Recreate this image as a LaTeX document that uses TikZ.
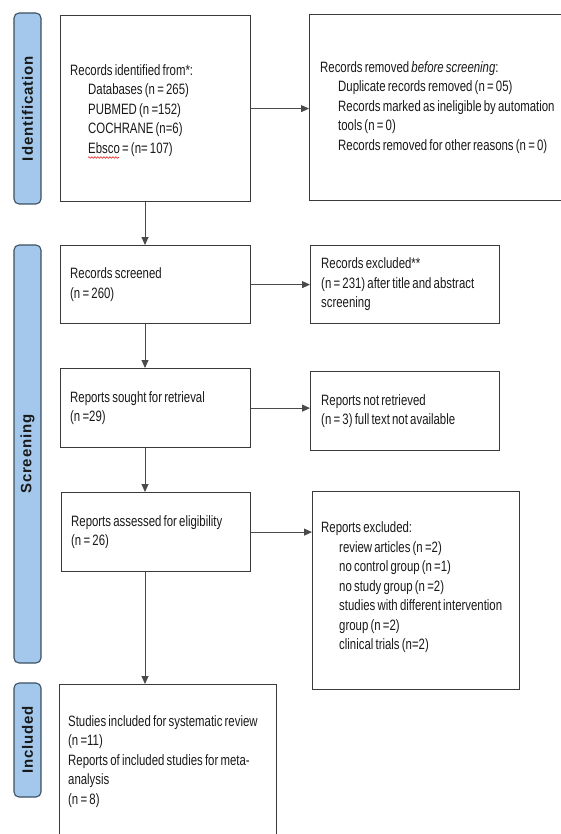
\documentclass[tikz,border=0pt]{standalone}
\usepackage{fontspec}
\setmainfont{Liberation Sans}[FakeStretch=0.76,WordSpace=0.7]
\newfontfamily\sidefont{Liberation Sans}[LetterSpace=6]
\usetikzlibrary{arrows.meta,decorations.pathmorphing}

\definecolor{sidefill}{HTML}{A4C8EC}
\definecolor{sideline}{HTML}{3D4F63}
\definecolor{boxline}{HTML}{3A3A3A}
\definecolor{arrowline}{HTML}{4A4A4A}
\definecolor{spellred}{HTML}{E02020}

\tikzset{
  stagebox/.style={draw=boxline, line width=1.2pt, anchor=north west, inner sep=0pt},
  boxtext/.style={anchor=west, align=left, inner sep=0pt,
    font=\fontsize{15}{19.5}\selectfont, text=black!90},
  sidebar/.style={draw=sideline, fill=sidefill, line width=1.1pt, rounded corners=5pt,
    rotate=90, minimum height=27pt, inner sep=0pt,
    font=\sidefont\bfseries\fontsize{15}{17}\selectfont, text=black!90},
  flow/.style={draw=arrowline, line width=0.9pt, -{Triangle[length=8pt,width=7pt]}}
}

\begin{document}
\begin{tikzpicture}[x=1pt,y=-1pt]
  \useasboundingbox (0,0) rectangle (560,834);
  \coordinate (spine) at (145,0);

  % Stage labels
  \node[sidebar, minimum width=191pt] (ident) at (27.5,108.5) {Identification};
  \node[sidebar, minimum width=418pt] (screen) at (27.5,454) {Screening};
  \node[sidebar, minimum width=114pt] (incl) at (27.5,740) {Included};

  % Main column boxes
  \node[stagebox, minimum width=190pt, minimum height=186pt] (found) at (60,15) {};
  \node[stagebox, minimum width=190pt, minimum height=78pt] (screened) at (60,245) {};
  \node[stagebox, minimum width=190pt, minimum height=79pt] (sought) at (60,368) {};
  \node[stagebox, minimum width=189pt, minimum height=79pt] (assessed) at (61,492) {};
  \node[stagebox, minimum width=217pt, minimum height=154pt] (included) at (59,684) {};

  % Side column boxes
  \node[stagebox, minimum width=262pt, minimum height=186pt] (removed) at (309,14) {};
  \node[stagebox, minimum width=189pt, minimum height=78pt] (excluded) at (310,245) {};
  \node[stagebox, minimum width=189pt, minimum height=79pt] (notretr) at (310,371) {};
  \node[stagebox, minimum width=207pt, minimum height=198pt] (reportsx) at (312,491) {};

  % Box texts
  \node[boxtext] (foundtxt) at ([xshift=10pt,yshift=-2pt]found.west)
    {Records identified from*:\\
     \hspace*{18pt}Databases (n = 265)\\
     \hspace*{18pt}PUBMED (n =152)\\
     \hspace*{18pt}COCHRANE (n=6)\\
     \hspace*{18pt}Ebsco = (n= 107)};
  \node[boxtext] (screenedtxt) at ([xshift=10pt]screened.west) {Records screened\\(n = 260)};
  \node[boxtext] (soughttxt) at ([xshift=10pt]sought.west) {Reports sought for retrieval\\(n =29)};
  \node[boxtext] (assessedtxt) at ([xshift=10pt]assessed.west) {Reports assessed for eligibility\\(n = 26)};
  \node[boxtext] (includedtxt) at ([xshift=9pt]included.west)
    {Studies included for systematic review\\(n =11)\\
     Reports of included studies for meta-\\analysis\\(n = 8)};
  \node[boxtext] (removedtxt) at ([xshift=11pt]removed.west)
    {Records removed \textit{before screening}:\\
     \hspace*{18pt}Duplicate records removed (n = 05)\\
     \hspace*{18pt}Records marked as ineligible by automation\\
     \hspace*{18pt}tools (n = 0)\\
     \hspace*{18pt}Records removed for other reasons (n = 0)};
  \node[boxtext] (excludedtxt) at ([xshift=11pt]excluded.west)
    {Records excluded**\\(n = 231) after title and abstract\\screening};
  \node[boxtext] (notretrtxt) at ([xshift=11pt]notretr.west)
    {Reports not retrieved\\(n = 3) full text not available};
  \node[boxtext] (reportsxtxt) at ([xshift=9pt,yshift=3pt]reportsx.west)
    {Reports excluded:\\
     \hspace*{18pt}review articles (n =2)\\
     \hspace*{18pt}no control group (n =1)\\
     \hspace*{18pt}no study group (n =2)\\
     \hspace*{18pt}studies with different intervention\\
     \hspace*{18pt}group (n =2)\\
     \hspace*{18pt}clinical trials (n=2)};

  % Spell-check mark under Ebsco
  \draw[spellred, line width=0.6pt, decorate, decoration={snake, amplitude=0.8pt, segment length=3pt}]
    (88,157.5) -- (119,157.5);

  % Downward arrows
  \draw[flow] (found.south -| spine) -- (screened.north -| spine);
  \draw[flow] (screened.south -| spine) -- (sought.north -| spine);
  \draw[flow] (sought.south -| spine) -- (assessed.north -| spine);
  \draw[flow] (assessed.south -| spine) -- (included.north -| spine);

  % Sideways arrows
  \draw[flow] (found.east) -- (found.east -| removed.west);
  \draw[flow] (screened.east) -- (screened.east -| excluded.west);
  \draw[flow] (sought.east) -- (sought.east -| notretr.west);
  \draw[flow] (assessed.east) -- (assessed.east -| reportsx.west);
\end{tikzpicture}
\end{document}
